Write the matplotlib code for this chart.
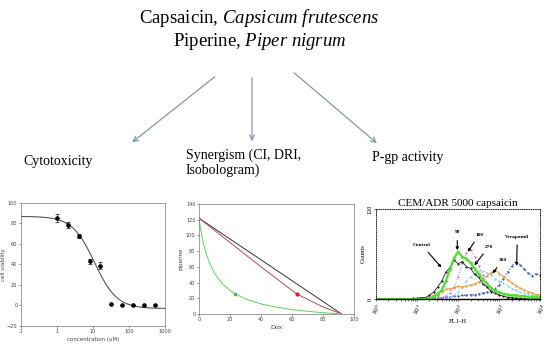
import numpy as np
import matplotlib
matplotlib.use("Agg")
import matplotlib.pyplot as plt

# ---- data -------------------------------------------------------------
title_lines = [r"Capsaicin, $\mathit{Capsicum\ frutescens}$",
               r"Piperine, $\mathit{Piper\ nigrum}$"]
branch_labels = ["Cytotoxicity", "Synergism (CI, DRI,\nIsobologram)", "P-gp activity"]

# cytotoxicity (dose response)
conc = [1, 2, 4, 8, 16, 32, 64, 128, 256, 512]
viability = [85, 78.5, 67.5, 43, 39, 1, 0.5, 0, 0.5, 0]
viability_err = [4, 3, 2, 2.5, 3, 0, 0, 0, 0, 0]
fit_top, fit_bottom, fit_ic50, fit_hill = 87, -3, 11, 1.4

# isobologram
iso_dox = [0, 92]
iso_pip = [122, 0]
red_dox = [0, 20, 40, 63, 80, 92]
red_pip = [122, 91, 60, 25.5, 9, 0]
green_dox = [0, 1, 2, 3, 5, 7.5, 10, 15, 20, 23.4, 30, 40, 50, 60, 70, 80, 92]
green_pip = [122, 108.7, 97.9, 88.8, 74.5, 61.5, 51.9, 38.6, 29.9, 25.5, 19.2,
             12.8, 8.6, 5.6, 3.4, 1.6, 0]
red_pt = (63, 25.5)
green_pt = (23.4, 25.5)

# flow cytometry histograms, log10(FL1-H) from 0.0 to 4.0 in 0.1 steps
fl_log = np.linspace(0, 4, 41)
h_control = [0, 0, 0, 0, 0, 0, 0, 0, 0, 1, 1, 2, 2, 5, 9, 16, 24, 36, 42, 52, 47,
             50, 43, 41, 33, 29, 20, 16, 10, 8, 5, 4, 2, 2, 1, 1, 0, 0, 0, 0, 0]
h_90 = [0, 0, 0, 0, 0, 0, 0, 0, 0, 0, 0, 0, 0, 1, 3, 6, 12, 24, 40, 55, 63,
        56, 54, 48, 40, 33, 26, 20, 15, 11, 9, 7, 6, 5, 5, 4, 4, 3, 3, 3, 3]
h_180 = [0, 0, 0, 0, 0, 0, 0, 0, 0, 0, 0, 0, 0, 0, 0, 0, 2, 4, 8, 16, 30,
         48, 62, 66, 56, 44, 32, 22, 14, 9, 6, 4, 3, 2, 2, 1, 1, 1, 1, 1, 1]
h_270 = [0, 0, 0, 0, 0, 0, 0, 0, 0, 0, 0, 0, 0, 0, 0, 0, 0, 1, 3, 6, 10,
         16, 24, 30, 34, 37, 38, 35, 32, 27, 24, 21, 18, 14, 12, 10, 8, 7, 6, 5, 5]
h_360 = [0, 0, 0, 0, 0, 0, 0, 0, 0, 0, 0, 0, 1, 3, 5, 8, 10, 13, 14, 15, 17,
         16, 17, 19, 20, 23, 26, 31, 35, 39, 34, 30, 26, 22, 18, 15, 12, 10, 8, 6, 5]
h_verapamil = [0, 0, 0, 0, 0, 0, 0, 0, 0, 0, 0, 0, 0, 0, 1, 2, 2, 3, 3, 4, 4,
               5, 5, 6, 6, 7, 8, 9, 11, 14, 19, 27, 36, 44, 50, 46, 40, 35, 31, 34, 32]

plt.rcParams['font.family'] = ['Liberation Serif', 'DejaVu Serif']
plt.rcParams['mathtext.fontset'] = 'custom'
plt.rcParams['mathtext.rm'] = 'Liberation Serif'
plt.rcParams['mathtext.it'] = 'Liberation Serif:italic'

fig = plt.figure(figsize=(5.5, 3.45), dpi=100)
fig.patch.set_facecolor("white")

# ---- header text and arrows (overlay in pixel coords) -----------------
ov = fig.add_axes([0, 0, 1, 1])
ov.set_xlim(0, 550)
ov.set_ylim(345, 0)
ov.axis("off")

ov.text(259, 18, title_lines[0], fontsize=13.5, va="center", ha="center")
ov.text(260, 41, title_lines[1], fontsize=13.5, va="center", ha="center")

arrow_col = "#8697ad"
for (x0, y0), (x1, y1) in [((217, 75), (130, 144)), ((252, 75), (252, 144)),
                           ((292, 71), (379, 145))]:
    ov.annotate("", xy=(x1, y1), xytext=(x0, y0),
                arrowprops=dict(arrowstyle="->", color=arrow_col, lw=0.9,
                                mutation_scale=9))

ov.text(23, 161, branch_labels[0], fontsize=10, va="center", ha="left")
ov.text(186, 163, branch_labels[1], fontsize=10, va="center", ha="left", linespacing=1.15)
ov.text(372, 158, branch_labels[2], fontsize=10, va="center", ha="left")

small = 3.6
grey = "#444444"

# ---- chart 1: cytotoxicity ---------------------------------------------
ax1 = fig.add_axes([0.0382, 0.0551, 0.2618, 0.3565])
xs = np.logspace(-1, 3, 200)
ax1.plot(xs, fit_bottom + (fit_top - fit_bottom) / (1 + (xs / fit_ic50) ** fit_hill),
         color="#555555", lw=0.8)
ax1.errorbar(conc, viability, yerr=viability_err, fmt="o", ms=2.3, color="black",
             ecolor="#333333", elinewidth=0.6, capsize=1.2, capthick=0.6)
ax1.set_xscale("log")
ax1.set_xlim(0.1, 1000)
ax1.set_ylim(-20, 100)
ax1.set_yticks(range(-20, 101, 20))
ax1.set_xticks([0.1, 1, 10, 100, 1000])
ax1.set_xticklabels([".1", "1", "10", "100", "1000"])
ax1.minorticks_off()
ax1.tick_params(labelsize=small, length=1.5, width=0.4, pad=1, colors=grey)
ax1.set_ylabel("cell viability", fontsize=4, labelpad=0.5, color=grey, family="DejaVu Sans")
ax1.set_xlabel("concentration (uM)", fontsize=4, labelpad=2, color=grey, family="DejaVu Sans")
for lab in ax1.get_xticklabels() + ax1.get_yticklabels():
    lab.set_family("DejaVu Sans")
for s in ax1.spines.values():
    s.set_linewidth(0.5)
    s.set_color("#777777")

# ---- chart 2: isobologram ------------------------------------------------
ax2 = fig.add_axes([0.3618, 0.0899, 0.2818, 0.3188])
ax2.plot(iso_dox, iso_pip, color="#333333", lw=0.7)
ax2.plot(red_dox, red_pip, color="#b05050", lw=0.7)
ax2.plot(green_dox, green_pip, color="#60d060", lw=0.7)
ax2.plot(*red_pt, "o", color="#d02020", ms=2)
ax2.plot(*green_pt, "o", color="#40c040", ms=1.6)
ax2.set_xlim(0, 100)
ax2.set_ylim(0, 140)
ax2.set_xticks(range(0, 101, 20))
ax2.set_yticks(range(0, 141, 20))
ax2.tick_params(labelsize=small, length=1.5, width=0.4, pad=1, colors=grey)
ax2.set_xlabel("Dox", fontsize=4.5, labelpad=2, color=grey, family="DejaVu Sans")
ax2.set_ylabel("piperine", fontsize=4, labelpad=2, color=grey, family="DejaVu Sans")
for lab in ax2.get_xticklabels() + ax2.get_yticklabels():
    lab.set_family("DejaVu Sans")
for s in ax2.spines.values():
    s.set_linewidth(0.5)
    s.set_color("#777777")

# ---- chart 3: flow cytometry ----------------------------------------------
ax3 = fig.add_axes([0.6836, 0.1333, 0.2990, 0.2609])
fl = 10 ** fl_log
ax3.plot(fl, h_verapamil, color="#3050c0", lw=0.8, ls=":", marker=".", ms=1.2)
ax3.plot(fl, h_270, color="#80d0e8", lw=0.7, ls=":", marker=".", ms=1.2)
ax3.plot(fl, h_360, color="#f0a050", lw=0.7, marker=".", ms=1.5)
ax3.plot(fl, h_180, color="#e070c8", lw=0.7, ls=":", marker=".", ms=1.2)
ax3.plot(fl, h_control, color="#222222", lw=0.6, marker=".", ms=1.2)
ax3.plot(fl, h_90, color="#50e030", lw=1.6, marker=".", ms=2.2)
ax3.set_xscale("log")
ax3.set_xlim(1, 10000)
ax3.set_ylim(0, 120)
ax3.set_yticks([0, 120])
ax3.set_yticklabels(["0", "120"], rotation=90, va="center")
ax3.tick_params(axis="y", labelsize=4.5, length=1.5, width=0.4, pad=1)
ax3.tick_params(axis="x", labelsize=5.2, length=1.5, width=0.4, pad=1)
ax3.tick_params(axis="x", which="minor", length=1.2, width=0.4)
for lab in ax3.get_xticklabels():
    lab.set_rotation(60)
    lab.set_ha("right")
    lab.set_rotation_mode("anchor")
ax3.set_title("CEM/ADR 5000 capsaicin", fontsize=8, pad=2)
ax3.set_xlabel("FL1-H", fontsize=4.8, labelpad=1)
ax3.set_ylabel("Counts", fontsize=4.8, labelpad=1)
for side in ["top", "right", "left"]:
    ax3.spines[side].set_linestyle(":")
    ax3.spines[side].set_linewidth(0.6)
ax3.spines["bottom"].set_linewidth(1.0)

ann = [("Control", (13, 72), (39, 42)),
       ("90", (95, 89), (95, 65)),
       ("180", (326, 86), (171, 63)),
       ("270", (569, 70), (247, 45)),
       ("360", (1200, 52), (684, 34)),
       ("Verapamil", (2740, 83), (2640, 44))]
for txt, xytext, xy in ann:
    ax3.annotate(txt, xy=xy, xytext=xytext, fontsize=3.9, fontweight="bold",
                 ha="center", va="center",
                 arrowprops=dict(arrowstyle="-|>", color="black", lw=0.8,
                                 mutation_scale=4, shrinkA=2.5, shrinkB=0))

fig.savefig("out.png", dpi=100, facecolor="white")
